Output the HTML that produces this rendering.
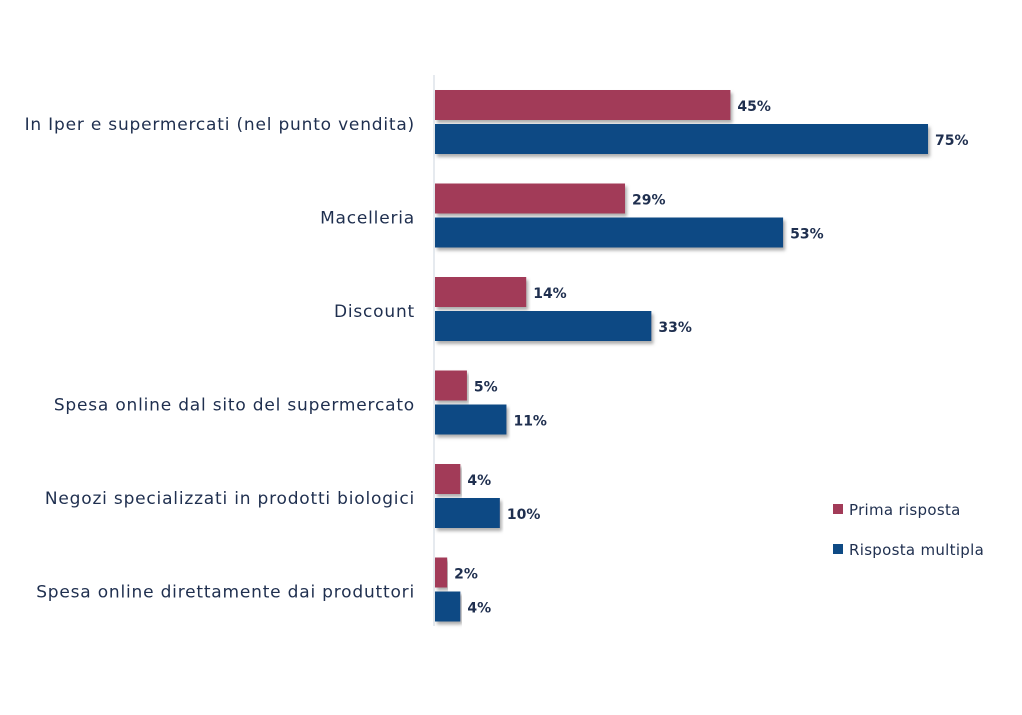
<!DOCTYPE html>
<html><head><meta charset="utf-8"><style>
body{margin:0;background:#fff;}
svg text{font-family:"DejaVu Sans","Liberation Sans",sans-serif;}
</style></head><body>
<svg width="1022" height="710">
<defs><filter id="sh" x="-5%" y="-20%" width="110%" height="160%"><feDropShadow dx="2" dy="3" stdDeviation="1.5" flood-color="#777" flood-opacity="0.6"/></filter></defs>
<line x1="434" y1="75" x2="434" y2="626" stroke="#dde3ea" stroke-width="1.5"/>
<g id="bars"></g>
<g>
<rect x="833" y="504" width="10" height="10" fill="#a23b58"/>
<text x="849" y="515" font-size="15" letter-spacing="0.3" fill="#1f2f4f">Prima risposta</text>
<rect x="833" y="544" width="10" height="10" fill="#0e4a84"/>
<text x="849" y="555" font-size="15" letter-spacing="0.3" fill="#1f2f4f">Risposta multipla</text>
</g>
</svg>
<script>
const categories=["In Iper e supermercati (nel punto vendita)","Macelleria","Discount","Spesa online dal sito del supermercato","Negozi specializzati in prodotti biologici","Spesa online direttamente dai produttori"];
const prima=[45,29,14,5,4,2];
const multipla=[75,53,33,11,10,4];
const ns="http://www.w3.org/2000/svg";
const g=document.getElementById('bars');
const x=v=>434+v*6.587;
const gy=i=>90+i*93.5;
function mk(t,a){const e=document.createElementNS(ns,t);for(const k in a)e.setAttribute(k,a[k]);g.appendChild(e);return e;}
categories.forEach((c,i)=>{
  const y=gy(i);
  const lab=mk('text',{x:415,y:y+40,'text-anchor':'end','font-size':17,'letter-spacing':0.8,fill:'#1f2f4f'});
  lab.textContent=c;
  
  
  [[prima[i],'#a23b58',y,'bar-prima'],[multipla[i],'#0e4a84',y+34,'bar-multipla']].forEach(([v,col,yy,nm])=>{
    const r=mk('rect',{x:435,y:yy,width:x(v)-435,height:30,fill:col,filter:'url(#sh)'});
    
    
    const t=mk('text',{x:x(v)+7,y:yy+21,'font-size':14,'font-weight':'bold',fill:'#1f2f4f'});
    t.textContent=v+'%';
    
    
  });
});
</script>
</body></html>
